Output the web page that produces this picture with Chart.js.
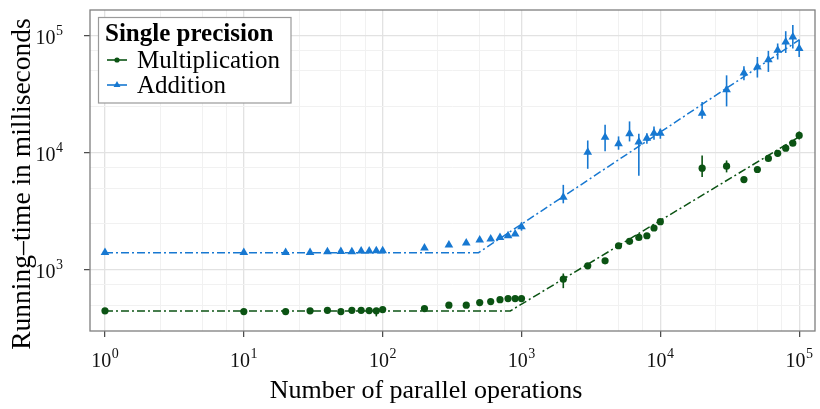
<!DOCTYPE html>
<html>
<head>
<meta charset="utf-8">
<script src="https://cdn.jsdelivr.net/npm/chart.js@4.4.1/dist/chart.umd.min.js"></script>
<style>
html, body { margin: 0; padding: 0; background: #fff; }
</style>
</head>
<body>
<canvas id="chart" width="820" height="409"></canvas>
<script>
// Running-time vs number of parallel operations (single precision), log-log
const ops = [1, 10, 20, 30, 40, 50, 60, 70, 80, 90, 100, 200, 300, 400, 500, 600, 700, 800, 900, 1000,
    2000, 3000, 4000, 5000, 6000, 7000, 8000, 9000, 10000,
    20000, 30000, 40000, 50000, 60000, 70000, 80000, 90000, 100000];

const multTime = [446, 440, 440, 446, 451, 440, 451, 451, 448, 446, 457, 466, 499, 499, 525, 535, 556, 568, 568, 568,
    832, 1082, 1194, 1606, 1750, 1893, 1954, 2276, 2576,
    7380, 7680, 5900, 7200, 8950, 9900, 10950, 12080, 14070];

const addTime = [1406, 1406, 1406, 1406, 1427, 1437, 1427, 1446, 1446, 1455, 1455, 1534, 1628, 1693, 1795, 1830, 1893, 1954, 2020, 2335,
    4165, 10100, 13600, 11950, 14550, 12340, 13330, 14720, 14720,
    21800, 34600, 48000, 54100, 62500, 75100, 88500, 97800, 77800];

// visible error bars only
const multErrX = [90, 2000, 20000, 30000, 100000];
const multErrLow = [400, 697, 6200, 6800, 13000];
const multErrHigh = [470, 930, 9500, 8600, 15200];

const addErrX = [1000, 2000, 3000, 4000, 5000, 6000, 7000, 8000, 9000, 10000,
    20000, 30000, 40000, 50000, 60000, 70000, 80000, 90000, 100000];
const addErrLow = [2160, 3700, 7300, 10330, 10620, 12500, 6380, 11940, 12910, 13180,
    19540, 24900, 41700, 43950, 49100, 62700, 71300, 77800, 65900];
const addErrHigh = [2540, 5320, 12740, 17380, 13800, 18540, 14550, 14720, 16790, 16070,
    27150, 45900, 54800, 65900, 74300, 85900, 109400, 123300, 92900];

// fitted piecewise lines (vertices)
const multFitX = [1, 830, 100000];
const multFitY = [445, 445, 13700];
const addFitX = [1, 490, 100000];
const addFitY = [1400, 1400, 92000];

// labelled powers of ten
const xDecades = [0, 1, 2, 3, 4, 5];
const yDecades = [3, 4, 5];

const GREEN = '#0b5313';
const BLUE = '#1778d1';
const SERIF = "'Liberation Serif', 'DejaVu Serif', serif";

function isDecade(v) {
    const l = Math.log10(v);
    return Math.abs(l - Math.round(l)) < 1e-9;
}

function logTicks(min, max) {
    const t = [];
    for (let k = -1; k <= 6; k++) {
        for (const m of [1, 2.5, 5, 7.5]) {
            const v = m * Math.pow(10, k);
            if (v >= min && v <= max) t.push({ value: v });
        }
    }
    return t;
}

function pairs(xs, ys) {
    return xs.map((x, i) => ({ x: x, y: ys[i] }));
}

// "10" with a raised exponent; anchor = 'center' or 'right'
function powerLabel(ctx, exp, x, base, anchor) {
    ctx.font = '20px ' + SERIF;
    const w10 = ctx.measureText('10').width;
    ctx.font = '14px ' + SERIF;
    const we = ctx.measureText(String(exp)).width;
    const total = w10 + we + 0.5;
    const start = anchor === 'center' ? x - total / 2 : x - total;
    ctx.textAlign = 'left';
    ctx.font = '20px ' + SERIF;
    ctx.fillText('10', start, base);
    ctx.font = '14px ' + SERIF;
    ctx.fillText(String(exp), start + w10 + 0.5, base - 9);
}

const decorations = {
    id: 'decorations',
    beforeDatasetsDraw(chart) {
        const ctx = chart.ctx;
        const xs = chart.scales.x, ys = chart.scales.y;
        const bars = [
            [multErrX, multErrLow, multErrHigh, GREEN],
            [addErrX, addErrLow, addErrHigh, BLUE]
        ];
        ctx.save();
        ctx.lineWidth = 1.6;
        bars.forEach(([ex, lo, hi, col]) => {
            ctx.strokeStyle = col;
            ex.forEach((x, i) => {
                const px = xs.getPixelForValue(x);
                ctx.beginPath();
                ctx.moveTo(px, ys.getPixelForValue(lo[i]));
                ctx.lineTo(px, ys.getPixelForValue(hi[i]));
                ctx.stroke();
            });
        });
        ctx.restore();
    },
    afterDraw(chart) {
        const ctx = chart.ctx;
        const a = chart.chartArea;
        const xs = chart.scales.x, ys = chart.scales.y;
        ctx.save();
        // panel frame
        ctx.strokeStyle = '#7f7f7f';
        ctx.lineWidth = 1.3;
        ctx.strokeRect(a.left, a.top, a.right - a.left, a.bottom - a.top);

        // tick labels
        ctx.fillStyle = '#111';
        ctx.textBaseline = 'alphabetic';
        xDecades.forEach(k => powerLabel(ctx, k, xs.getPixelForValue(Math.pow(10, k)), 367, 'center'));
        yDecades.forEach(k => powerLabel(ctx, k, 63, ys.getPixelForValue(Math.pow(10, k)) + 8.5, 'right'));

        // legend
        ctx.fillStyle = '#fff';
        ctx.fillRect(98.5, 17.5, 192.5, 85.5);
        ctx.strokeStyle = '#9a9a9a';
        ctx.lineWidth = 1.2;
        ctx.strokeRect(98.5, 17.5, 192.5, 85.5);
        ctx.fillStyle = '#000';
        ctx.textAlign = 'left';
        ctx.font = 'bold 25px ' + SERIF;
        ctx.fillText('Single precision', 105, 41);
        const items = [
            [chart.data.datasets[0], 60, 68],
            [chart.data.datasets[1], 85, 93]
        ];
        items.forEach(([ds, y, base]) => {
            ctx.strokeStyle = ds.borderColor;
            ctx.lineWidth = 1.6;
            ctx.beginPath();
            ctx.moveTo(107, y);
            ctx.lineTo(127, y);
            ctx.stroke();
            ctx.fillStyle = ds.backgroundColor;
            Chart.helpers.drawPoint(ctx, {
                pointStyle: ds.pointStyle,
                radius: ds.pointStyle === 'triangle' ? 4 : 2.6,
                rotation: 0,
                borderWidth: 0
            }, 117, y);
            ctx.fillStyle = '#000';
            ctx.font = '25px ' + SERIF;
            ctx.fillText(ds.label, 137, base);
        });

        // axis titles
        ctx.fillStyle = '#000';
        ctx.font = '26px ' + SERIF;
        ctx.textAlign = 'center';
        ctx.fillText('Number of parallel operations', 426, 398);
        ctx.translate(30, 184);
        ctx.rotate(-Math.PI / 2);
        ctx.font = '27.5px ' + SERIF;
        ctx.fillText('Running–time in milliseconds', 0, 0);
        ctx.restore();
    }
};

function noPad(s) {
    s.paddingTop = 0;
    s.paddingBottom = 0;
    s.paddingLeft = 0;
    s.paddingRight = 0;
}

function axis(min, max, extra) {
    return Object.assign({
        type: 'logarithmic',
        min: min,
        max: max,
        bounds: 'data',
        afterBuildTicks: s => { s.ticks = logTicks(min, max); },
        border: { display: false },
        grid: {
            color: c => (c.tick && isDecade(c.tick.value)) ? '#e2e2e2' : '#f1f1f1',
            lineWidth: c => (c.tick && isDecade(c.tick.value)) ? 1.3 : 1,
            tickColor: c => (c.tick && isDecade(c.tick.value)) ? '#444' : 'rgba(0,0,0,0)',
            tickLength: 6,
            tickWidth: 1.2
        },
        ticks: {
            autoSkip: false,
            maxRotation: 0,
            callback: () => ''
        }
    }, extra);
}

const xAxis = axis(0.78, 130000, { afterFit: s => { s.height = 78; noPad(s); } });
const yAxis = axis(300, 166000, { afterFit: s => { s.width = 90; noPad(s); } });

new Chart(document.getElementById('chart').getContext('2d'), {
    type: 'scatter',
    data: {
        datasets: [
            {
                label: 'Multiplication',
                data: pairs(ops, multTime),
                pointStyle: 'circle',
                pointRadius: 3.6,
                backgroundColor: GREEN,
                borderColor: GREEN,
                borderWidth: 0,
                order: 1
            },
            {
                label: 'Addition',
                data: pairs(ops, addTime),
                pointStyle: 'triangle',
                pointRadius: 5,
                backgroundColor: BLUE,
                borderColor: BLUE,
                borderWidth: 0,
                order: 1
            },
            {
                label: 'Multiplication fit',
                data: pairs(multFitX, multFitY),
                showLine: true,
                pointRadius: 0,
                borderColor: GREEN,
                borderWidth: 1.5,
                borderDash: [8, 3, 2, 3],
                order: 2
            },
            {
                label: 'Addition fit',
                data: pairs(addFitX, addFitY),
                showLine: true,
                pointRadius: 0,
                borderColor: BLUE,
                borderWidth: 1.5,
                borderDash: [8, 3, 2, 3],
                order: 2
            }
        ]
    },
    options: {
        responsive: false,
        animation: false,
        devicePixelRatio: 1,
        layout: { padding: { top: 10, right: 4, left: 0, bottom: 0 } },
        plugins: { legend: { display: false }, tooltip: { enabled: false } },
        scales: { x: xAxis, y: yAxis }
    },
    plugins: [decorations]
});
</script>
</body>
</html>
